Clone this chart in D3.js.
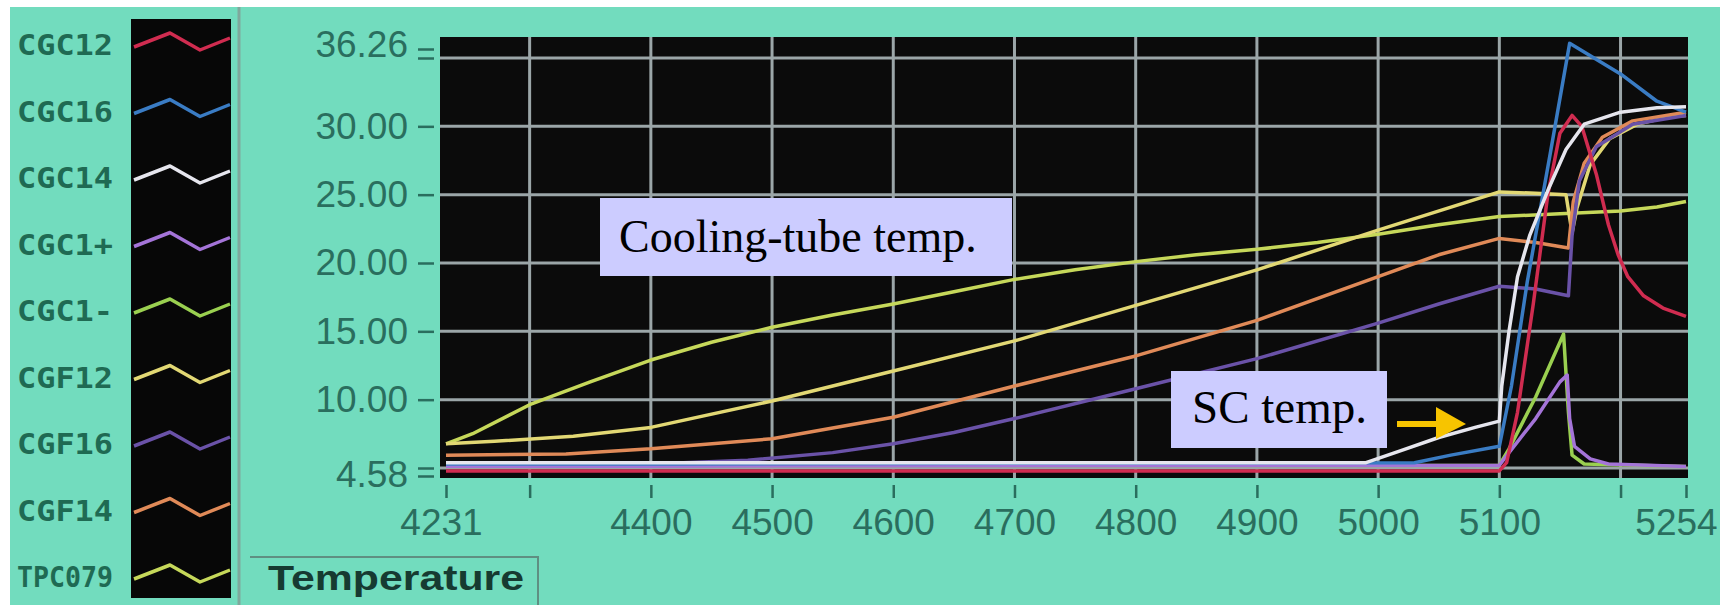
<!DOCTYPE html>
<html>
<head>
<meta charset="utf-8">
<script src="https://cdn.jsdelivr.net/npm/d3@7"></script>
<style>
  body { margin: 0; background: #fff; }
  svg { display: block; }
</style>
</head>
<body>
<div id="chart"></div>
<script>
var width = 1720, height = 605;

// Legend order of the channels
var seriesNames  = ["CGC12", "CGC16", "CGC14", "CGC1+", "CGC1-", "CGF12", "CGF16", "CGF14", "TPC079"];
var seriesColors = ["#d02c50", "#3a7cc4", "#e6e6ee", "#a474d8", "#9ad050", "#e2d874", "#6a52a8", "#e08a58", "#c6d85a"];

// Readings [time, temperature]
var cgc12 = [[4231,4.35],[5100,4.35],[5106,5.0],[5115,9],[5128,17],[5140,25],[5150,29.5],[5160,31],[5168,30],
             [5180,26.5],[5190,22.8],[5198,20.6],[5206,19],[5219,17.6],[5235,16.7],[5254,16.1]];
var cgc16 = [[4231,4.9],[4420,4.9],[4700,4.95],[5030,5.0],[5060,5.6],[5100,6.3],[5110,11],[5123,18.6],[5142,28],
             [5158,37.6],[5200,34.8],[5230,32.3],[5254,31.3]];
var cgc14 = [[4231,5.0],[4990,5.0],[5020,6.0],[5050,7.0],[5080,7.8],[5100,8.3],[5102,11],[5108,15],[5115,19],
             [5125,22],[5140,25.3],[5155,28.3],[5170,30.2],[5200,31.3],[5230,31.7],[5254,31.8]];
var cgc1p = [[4231,4.7],[5100,4.8],[5108,5.8],[5130,8.5],[5150,11.3],[5156,11.8],[5158,8.5],[5162,6.3],[5175,5.3],
             [5190,4.9],[5254,4.7]];
var cgc1m = [[4231,4.7],[5100,4.8],[5108,6.1],[5130,10.2],[5153,14.8],[5157,9],[5160,5.6],[5170,4.9],[5254,4.7]];
var cgf12 = [[4231,6.5],[4271,6.7],[4336,7.1],[4400,7.8],[4500,9.9],[4600,12.1],[4700,14.3],[4800,16.9],[4900,19.5],
             [5000,22.4],[5100,25.2],[5130,25.1],[5155,25.0],[5160,22.2],[5164,24],[5175,27.2],[5191,29.1],
             [5214,30.2],[5241,30.9],[5254,31.0]];
var cgf16 = [[4231,4.8],[4400,4.9],[4480,5.2],[4550,5.8],[4600,6.5],[4650,7.4],[4700,8.5],[4800,10.8],[4900,13.0],
             [5000,15.6],[5050,17.0],[5100,18.3],[5130,18.1],[5157,17.6],[5160,22],[5166,26],[5180,28.5],
             [5210,30.2],[5254,31.0]];
var cgf14 = [[4231,5.6],[4330,5.7],[4400,6.1],[4500,6.9],[4600,8.6],[4700,11.0],[4800,13.2],[4900,15.8],[5000,19.0],
             [5050,20.6],[5100,21.8],[5130,21.5],[5157,21.1],[5161,24.5],[5170,27.3],[5185,29.2],[5210,30.5],
             [5254,31.3]];
var tpc079 = [[4231,6.5],[4253,7.3],[4300,9.6],[4350,11.3],[4400,12.9],[4450,14.2],[4500,15.3],[4550,16.2],
              [4600,17.0],[4650,17.9],[4700,18.8],[4750,19.5],[4800,20.1],[4850,20.6],[4900,21.0],[4950,21.5],
              [5000,22.1],[5050,22.8],[5100,23.4],[5150,23.6],[5200,23.8],[5230,24.1],[5254,24.5]];

var seriesValues = [cgc12, cgc16, cgc14, cgc1p, cgc1m, cgf12, cgf16, cgf14, tpc079];
// back to front
var drawOrder = ["TPC079", "CGF12", "CGF14", "CGF16", "CGC1-", "CGC1+", "CGC16", "CGC12", "CGC14"];

// Axis ticks
var xDomain = [4231, 5254];
var xTicks = [4231, 4300, 4400, 4500, 4600, 4700, 4800, 4900, 5000, 5100, 5200, 5254];
var xUnlabelled = [4300, 5200];
var xGrid = [4300, 4400, 4500, 4600, 4700, 4800, 4900, 5000, 5100, 5200];
var yTicks = [4.58, 10, 15, 20, 25, 30, 36.26];

var bg = "#72dcbe", ink = "#2a6e5e";

var svg = d3.select("#chart").append("svg")
  .attr("width", width)
  .attr("height", height);

svg.append("rect").attr("width", width).attr("height", height).attr("fill", "#ffffff");
svg.append("rect").attr("x", 10).attr("y", 7).attr("width", width - 10).attr("height", height - 7).attr("fill", bg);

// ---- legend panel ----
var legendTop = 45, legendStep = 66.5;
svg.append("rect")
  .attr("x", 131).attr("y", 19).attr("width", 100).attr("height", 579)
  .attr("fill", "#070707");
svg.append("line")
  .attr("x1", 239).attr("x2", 239).attr("y1", 7).attr("y2", height)
  .attr("stroke", "#7fa89c").attr("stroke-width", 3);

var zig = d3.line();
var zigShape = [[134, 2], [170, -12], [200, 5], [230, -7]];

var items = svg.selectAll("g.legend-item")
  .data(seriesNames)
  .join("g")
  .classed("legend-item", true)
  .attr("transform", (d, i) => "translate(0," + (legendTop + i * legendStep) + ")");

items.append("text")
  .attr("x", 17)
  .attr("y", 0)
  .attr("dy", "0.36em")
  .attr("textLength", 96)
  .attr("lengthAdjust", "spacingAndGlyphs")
  .style("font-family", "'DejaVu Sans Mono', monospace")
  .style("font-weight", "bold")
  .style("font-size", "29px")
  .attr("fill", "#1f6a53")
  .text(d => d);

items.append("path")
  .attr("d", zig(zigShape))
  .attr("fill", "none")
  .attr("stroke", (d, i) => seriesColors[i])
  .attr("stroke-width", 3.5)
  .attr("stroke-linejoin", "round");

// ---- plot ----
var plot = {left: 440, right: 1688, top: 37, bottom: 478};
var gridBottom = 468, gridTop = 58;

var x = d3.scaleLinear().domain(xDomain).range([446, 1686]);
// the screen puts the y labels at evenly spaced grid lines
var y = d3.scaleLinear()
  .domain(yTicks)
  .range(yTicks.map((d, i) => gridBottom - i * (gridBottom - gridTop) / (yTicks.length - 1)));

svg.append("rect")
  .attr("x", plot.left).attr("y", plot.top)
  .attr("width", plot.right - plot.left).attr("height", plot.bottom - plot.top)
  .attr("fill", "#0b0b0b");

svg.append("clipPath").attr("id", "plot-clip")
  .append("rect")
  .attr("x", plot.left).attr("y", plot.top)
  .attr("width", plot.right - plot.left).attr("height", plot.bottom - plot.top);

var grid = svg.append("g").attr("stroke", "#9ba6a8").attr("stroke-width", 3);
grid.selectAll("line.hgrid")
  .data(yTicks)
  .join("line")
  .classed("hgrid", true)
  .attr("x1", plot.left).attr("x2", plot.right)
  .attr("y1", d => y(d)).attr("y2", d => y(d));
grid.selectAll("line.vgrid")
  .data(xGrid)
  .join("line")
  .classed("vgrid", true)
  .attr("x1", d => x(d)).attr("x2", d => x(d))
  .attr("y1", plot.top).attr("y2", plot.bottom);

var line = d3.line()
  .x(d => x(d[0]))
  .y(d => y(d[1]));

svg.append("g")
  .attr("clip-path", "url(#plot-clip)")
  .selectAll("path")
  .data(drawOrder)
  .join("path")
  .attr("d", d => line(seriesValues[seriesNames.indexOf(d)]))
  .attr("fill", "none")
  .attr("stroke", d => seriesColors[seriesNames.indexOf(d)])
  .attr("stroke-width", 3.5)
  .attr("stroke-linejoin", "round");

// ---- axes ----
var yAxis = svg.append("g")
  .attr("transform", "translate(434,0)")
  .call(d3.axisLeft(y).tickValues(yTicks).tickSize(16).tickPadding(10).tickFormat(d3.format(".2f")));

var xAxis = svg.append("g")
  .attr("transform", "translate(0,485)")
  .call(d3.axisBottom(x).tickValues(xTicks).tickSize(13).tickPadding(11)
    .tickFormat(d => xUnlabelled.indexOf(d) >= 0 ? "" : d));

[yAxis, xAxis].forEach(a => {
  a.select(".domain").remove();
  a.selectAll(".tick line").attr("stroke", ink).attr("stroke-width", 2.5);
  a.selectAll(".tick text")
    .attr("fill", ink)
    .style("font-family", "'Liberation Sans', Arial, sans-serif")
    .style("font-size", "37px");
});

// end labels are nudged so they stay on screen
xAxis.selectAll(".tick text").filter(d => d === xDomain[0]).attr("x", -5);
xAxis.selectAll(".tick text").filter(d => d === xDomain[1]).attr("x", -10);

// end labels sit off their grid lines, with a double tick
yAxis.selectAll(".tick text").filter(d => d === yTicks[yTicks.length - 1]).attr("y", -13);
yAxis.selectAll(".tick text").filter(d => d === yTicks[0]).attr("y", 7);
yAxis.selectAll(".tick").filter(d => d === yTicks[yTicks.length - 1] || d === yTicks[0])
  .append("line")
  .attr("x2", -16)
  .attr("y1", d => d === yTicks[0] ? 8 : -9)
  .attr("y2", d => d === yTicks[0] ? 8 : -9)
  .attr("stroke", ink).attr("stroke-width", 2.5);

// ---- Temperature tab ----
svg.append("path")
  .attr("d", "M250,557 L538,557 L538," + height)
  .attr("fill", "none")
  .attr("stroke", "#5f8f82")
  .attr("stroke-width", 2);
svg.append("text")
  .attr("x", 268).attr("y", 590)
  .attr("textLength", 256)
  .attr("lengthAdjust", "spacingAndGlyphs")
  .style("font-family", "'Liberation Sans', Arial, sans-serif")
  .style("font-weight", "bold")
  .style("font-size", "35px")
  .attr("fill", "#163a31")
  .text("Temperature");

// ---- callouts ----
var callouts = [
  {text: "Cooling-tube temp.", x: 600, y: 198, w: 412, h: 78, tx: 619, ty: 252, size: 46},
  {text: "SC temp.", x: 1171, y: 371, w: 216, h: 77, tx: 1192, ty: 423, size: 47}
];
var co = svg.selectAll("g.callout")
  .data(callouts)
  .join("g")
  .classed("callout", true);
co.append("rect")
  .attr("x", d => d.x).attr("y", d => d.y)
  .attr("width", d => d.w).attr("height", d => d.h)
  .attr("fill", "#ccccff");
co.append("text")
  .attr("x", d => d.tx).attr("y", d => d.ty)
  .style("font-family", "'Liberation Serif', 'Times New Roman', serif")
  .style("font-size", d => d.size + "px")
  .attr("fill", "#000")
  .text(d => d.text);

// yellow arrow pointing at the SC trace
svg.append("path")
  .attr("d", "M1397,421 L1436,421 L1436,407 L1466,424 L1436,439 L1436,427 L1397,427 Z")
  .attr("fill", "#f7c400");
</script>
</body>
</html>
